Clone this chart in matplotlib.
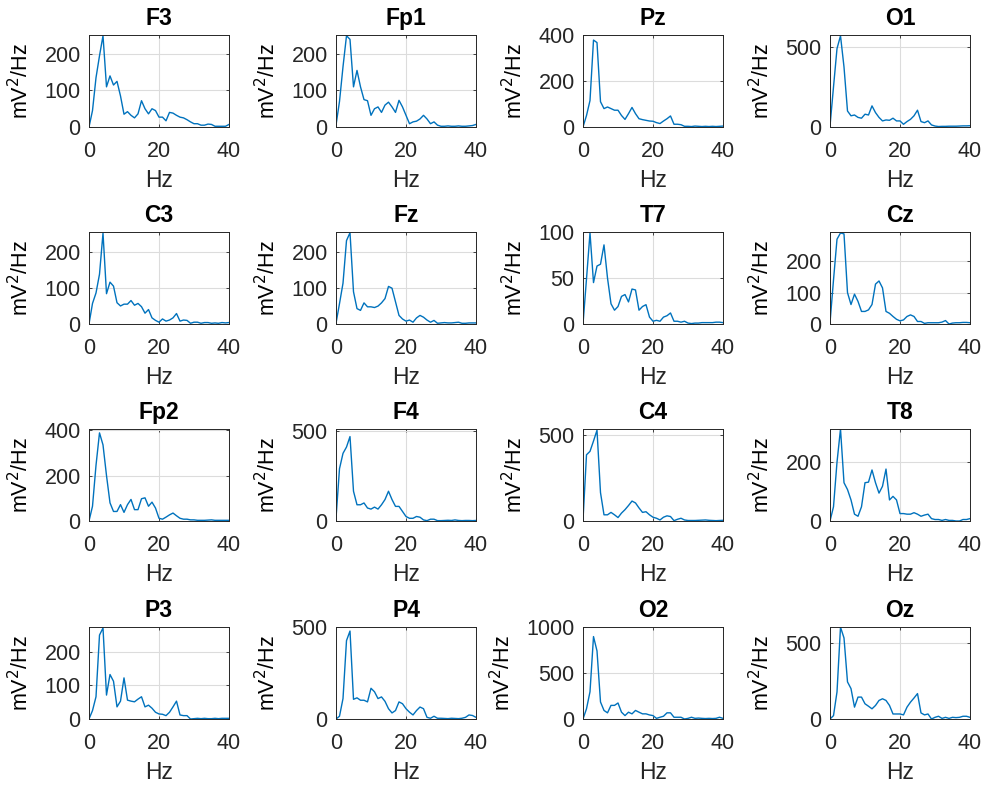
import numpy as np
import matplotlib.pyplot as plt

plt.rcParams['font.family'] = ['Liberation Sans', 'DejaVu Sans']

freqs = np.arange(0, 41)

channels = ['F3', 'Fp1', 'Pz', 'O1',
            'C3', 'Fz', 'T7', 'Cz',
            'Fp2', 'F4', 'C4', 'T8',
            'P3', 'P4', 'O2', 'Oz']

F3 = [0, 45, 135, 195, 250, 110, 140, 115, 125, 85, 35, 42, 32, 25, 36, 72, 50, 36, 50, 45,
      27, 27, 17, 40, 38, 32, 27, 25, 20, 14, 9, 9, 5, 5, 8, 7, 2, 2, 2, 2, 7]
Fp1 = [5, 70, 165, 250, 240, 110, 155, 110, 75, 72, 32, 50, 55, 40, 60, 68, 55, 40, 73, 55,
       32, 9, 14, 16, 22, 32, 22, 9, 14, 5, 2, 2, 3, 2, 2, 3, 2, 2, 3, 4, 7]
Pz = [0, 50, 115, 378, 367, 110, 80, 87, 80, 73, 73, 50, 33, 58, 85, 58, 36, 32, 29, 26,
      25, 19, 15, 26, 36, 48, 12, 12, 10, 3, 3, 2, 4, 3, 2, 3, 2, 3, 2, 3, 4]
O1 = [6, 250, 490, 570, 375, 100, 70, 75, 60, 55, 80, 75, 132, 90, 60, 38, 44, 42, 55, 38,
      38, 17, 34, 48, 70, 105, 34, 27, 38, 13, 6, 3, 4, 4, 5, 5, 5, 6, 7, 7, 8]
C3 = [0, 57, 86, 138, 252, 84, 116, 105, 59, 50, 55, 55, 65, 52, 57, 48, 30, 40, 17, 10,
      5, 14, 8, 11, 17, 29, 8, 11, 10, 2, 5, 5, 2, 4, 4, 2, 3, 2, 4, 3, 4]
Fz = [2, 57, 114, 233, 255, 90, 43, 38, 59, 48, 48, 46, 50, 59, 71, 105, 100, 62, 24, 14,
      8, 11, 5, 17, 24, 19, 11, 5, 10, 2, 3, 4, 3, 3, 4, 5, 2, 2, 3, 3, 3]
T7 = [0, 49, 99, 45, 63, 65, 86, 50, 22, 15, 19, 30, 32, 24, 38, 37, 15, 19, 21, 7.5,
      3, 4, 3, 7.5, 9, 12, 3, 3, 2, 3, 1, 0.5, 1, 1, 1.5, 1.5, 1.5, 1.5, 2, 2, 1.5]
Cz = [4, 140, 270, 290, 287, 100, 62, 95, 72, 40, 40, 45, 62, 127, 137, 115, 40, 34, 24, 15,
      10, 13, 24, 29, 24, 8, 8, 2, 4, 4, 4, 4, 6, 11, 0, 3, 4, 4, 5, 5, 4]
Fp2 = [0, 65, 245, 388, 335, 200, 80, 42, 42, 72, 38, 72, 95, 50, 50, 98, 102, 65, 83, 57,
       12, 8, 17, 27, 35, 23, 12, 8, 8, 5, 5, 3, 3, 3, 4, 5, 3, 3, 3, 3, 3]
F4 = [15, 290, 375, 410, 468, 165, 90, 90, 100, 72, 66, 77, 66, 90, 119, 165, 119, 81, 81, 53,
      25, 15, 15, 25, 21, 6, 2, 10, 10, 2, 2, 3, 4, 3, 6, 3, 2, 3, 3, 2, 3]
C4 = [6, 385, 405, 465, 528, 165, 36, 36, 50, 36, 20, 46, 66, 90, 116, 105, 76, 50, 54, 36,
      22, 16, 6, 22, 30, 26, 2, 10, 16, 6, 3, 3, 3, 4, 5, 6, 4, 3, 2, 3, 4]
T8 = [0, 48, 198, 310, 129, 106, 71, 23, 16, 48, 129, 131, 172, 129, 94, 117, 175, 71, 83, 71,
      25, 25, 23, 23, 28, 23, 16, 20, 23, 8, 5, 5, 2, 5, 2, 2, 0, 0, 5, 5, 8]
P3 = [0, 25, 66, 249, 270, 71, 132, 112, 36, 53, 122, 56, 53, 51, 59, 66, 36, 41, 32, 20,
      15, 14, 10, 20, 36, 53, 12, 10, 10, 0, 1, 2, 1, 2, 1, 1, 2, 1, 2, 2, 2]
P4 = [0, 15, 111, 426, 478, 107, 115, 102, 102, 93, 167, 148, 111, 120, 96, 56, 33, 46, 93, 83,
      56, 37, 22, 46, 65, 56, 9, 4, 15, 4, 4, 3, 2, 4, 3, 2, 4, 9, 22, 19, 9]
O2 = [0, 111, 296, 896, 740, 185, 93, 67, 148, 148, 174, 74, 37, 74, 56, 93, 74, 56, 56, 44,
      37, 7, 19, 30, 67, 67, 19, 19, 19, 0, 7, 19, 7, 10, 7, 5, 7, 5, 7, 19, 7]
Oz = [0, 22, 178, 604, 533, 244, 200, 78, 144, 144, 100, 84, 67, 89, 122, 133, 122, 89, 33, 33,
      33, 27, 78, 111, 138, 167, 40, 27, 33, 0, 11, 18, 4, 11, 4, 11, 9, 11, 18, 18, 11]

psd = [F3, Fp1, Pz, O1, C3, Fz, T7, Cz, Fp2, F4, C4, T8, P3, P4, O2, Oz]

ylims = [252, 252, 400, 575, 255, 257, 100, 293, 405, 510, 535, 310, 273, 500, 1000, 605]
yticks = [[0, 100, 200], [0, 100, 200], [0, 200, 400], [0, 500],
          [0, 100, 200], [0, 100, 200], [0, 50, 100], [0, 100, 200],
          [0, 200, 400], [0, 500], [0, 500], [0, 200],
          [0, 100, 200], [0, 500], [0, 500, 1000], [0, 500]]

W, H = 987, 791
fig = plt.figure(figsize=(W / 100, H / 100), dpi=100)

lefts = [89, 336, 583, 830]
tops = [35, 232, 429, 627]
aw, ah = 140, 92
dark = '#262626'

for i, ch in enumerate(channels):
    r, c = divmod(i, 4)
    ax = fig.add_axes([lefts[c] / W, 1 - (tops[r] + ah) / H, aw / W, ah / H])
    ax.plot(freqs, psd[i], color='#0072BD', lw=1.0)
    ax.set_xlim(0, 40)
    ax.set_ylim(0, ylims[i])
    ax.set_xticks([0, 20, 40])
    ax.set_yticks(yticks[i])
    ax.grid(True, color='#dcdcdc', lw=0.8)
    ax.set_axisbelow(True)
    ax.tick_params(direction='in', length=2.5, width=0.6, colors=dark,
                   labelsize=15.5, top=True, right=True)
    ax.tick_params(axis='x', pad=10)
    ax.tick_params(axis='y', pad=6)
    for s in ax.spines.values():
        s.set_color(dark)
        s.set_linewidth(0.7)
    ax.set_title(ch, fontsize=16.5, fontweight='bold', pad=7)
    ax.set_xlabel('Hz', fontsize=16.5, color=dark, labelpad=5)
    ax.set_ylabel('mV$^2$/Hz', fontsize=15.5, labelpad=8)

fig.savefig('out.png', dpi=100, facecolor='white')
